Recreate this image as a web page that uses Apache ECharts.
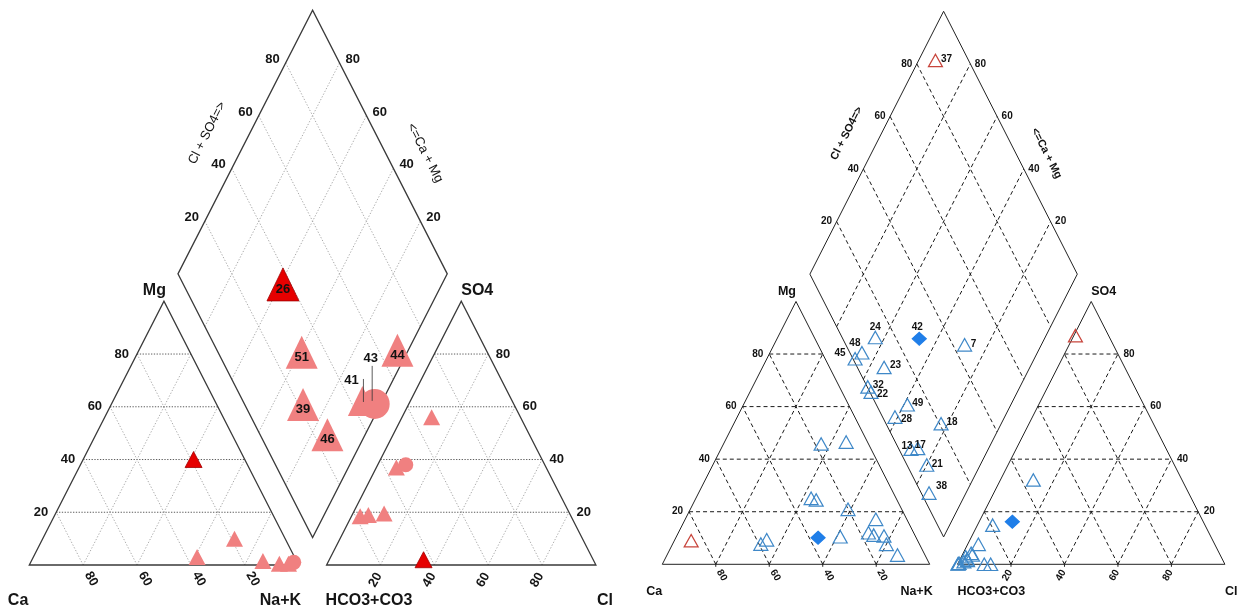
<!DOCTYPE html>
<html>
<head>
<meta charset="utf-8">
<script src="https://cdn.jsdelivr.net/npm/echarts@6/dist/echarts.min.js"></script>
<style>
  html, body { margin: 0; padding: 0; background: #fff; }
  #chart { width: 1247px; height: 615px; }
</style>
</head>
<body>
<div id="chart"></div>
<script>
// Two Piper diagrams (percent of meq/L): cations Ca / Mg / Na+K, anions HCO3+CO3 / SO4 / Cl.

// ---- left diagram samples ----
const leftIds = ['26', '51', '39', '46', '44', '41', '43'];
const leftMg  = [40, 3, 10, 1.5, 0.5, 0.5, 1];
const leftNaK = [41, 60.8, 71.2, 86, 96, 92.6, 97.7];
const leftSO4 = [2, 19.5, 18.5, 19, 56, 37, 38];
const leftCl  = [35, 11.6, 3.2, 6, 11, 7.4, 10.4];

// ---- right diagram samples ----
const rightIds = ['45', '48', '24', '32', '22', '23', '28', '49', '13', '7', '17', '18', '21', '38', '42', '37'];
const rightMg  = [7.7, 9.3, 45.8, 25.1, 24.5, 46.5, 20.9, 10.5, 12, 17.1, 11.1, 10.8, 7.6, 3.5, 10.1, 9];
const rightNaK = [33, 34.4, 36.5, 43.1, 45.3, 45.5, 59, 61.3, 71.1, 71.3, 73.5, 77.5, 80, 86.2, 53.2, 6.3];
const rightSO4 = [0.4, 2.9, 0, 0.1, 0.2, 0, 2.0, 7.6, 1.5, 32.1, 4.2, 14.9, 3.6, 1.0, 16.2, 87];
const rightCl  = [0.4, 1.6, 12.4, 0.1, 0.2, 10.0, 2.6, 4.0, 3.0, 12.3, 3.0, 5.7, 3.8, 1.9, 12.4, 0.6];

// grid/tick percentages
const tickValues = [20, 40, 60, 80];

// ---- Piper geometry (equilateral units, triangle side = 100) ----
const SQ = Math.sqrt(3) / 2;
const GAP = 10.4;
const OFF = 100 + GAP;
const cat = (mg, nak) => [nak + mg / 2, SQ * mg];            // cation triangle
const ani = (so4, cl) => [OFF + cl + so4 / 2, SQ * so4];     // anion triangle
const dia = (nak, s) => [(nak + OFF + s) / 2, SQ * (OFF + s - nak)]; // diamond, s = Cl+SO4

const FONT = '"Liberation Sans", Arial, Helvetica, sans-serif';

// ---- marker appearance ----
const leftLook = {
  base: { symbol: 'triangle', color: '#f08080' },
  '26': { symbol: 'triangle', color: '#e60000', border: '#a00000' },
  '43': { symbol: 'circle', color: '#f08080' }
};
const rightLook = {
  base: { symbol: 'triangle', color: 'rgba(0,0,0,0)', border: '#3f88c8' },
  '42': { symbol: 'diamond', color: '#1f7ee8', border: '#1f7ee8' },
  '37': { symbol: 'triangle', color: 'rgba(0,0,0,0)', border: '#c8453c' }
};
const rightLabelShift = {
  '24': [0, -10], '42': [-2, -12], '7': [9, -1], '48': [-7, -9], '45': [-15, -6],
  '23': [11.5, -2], '32': [10.5, -1.5], '22': [11.5, 2.5], '49': [10.5, -2],
  '28': [11.5, 2.5], '18': [11, -1.5], '13': [-4, -3], '17': [2.5, -3],
  '21': [10.5, -1], '38': [12.5, -7], '37': [11, -1.5]
};
const leftCallout = {
  '41': { label: [-11, -21], line: [1, -22, 1] },
  '43': { label: [-4, -45], line: [-2.5, -38, -3] }
};

// ---- styles of the two frames ----
const leftTheme = {
  text: '#151515',
  frame: { stroke: '#3a3a3a', lineWidth: 1.3 },
  hGrid: { stroke: '#4a4a4a', lineWidth: 0.9, lineDash: [1.3, 1.5] },
  dGrid: { stroke: '#a0a0a0', lineWidth: 0.9, lineDash: [1.3, 1.8] },
  tickFont: { size: 13, weight: 'bold' },
  titleFont: { size: 16, weight: 'bold' },
  edgeFont: { size: 13, weight: 'normal' },
  edgeGap: 8, aniGap: 7.5, diaGap: 6, diaDy: -3.5,
  catBase: [8, 14], aniBase: [-5, 15],
  topDy: -11, mgDx: 2, bottomDy: 36, caDx: -1, nakDx: 2.5, hcoDx: -1, clDx: 1,
  diaTitleL: [-38, -9], diaTitleR: [45, 11],
  baseTicks: false
};
const rightTheme = {
  text: '#111',
  frame: { stroke: '#222', lineWidth: 1 },
  hGrid: { stroke: '#1a1a1a', lineWidth: 1, lineDash: [4, 3] },
  dGrid: { stroke: '#1a1a1a', lineWidth: 1, lineDash: [4, 3] },
  tickFont: { size: 10, weight: 'bold' },
  titleFont: { size: 12.5, weight: 'bold' },
  edgeFont: { size: 11, weight: 'bold' },
  edgeGap: 6, aniGap: 5.5, diaGap: 4.5, diaDy: 0,
  catBase: [6, 11], aniBase: [-3.5, 11],
  topDy: -9.5, mgDx: 0, bottomDy: 27.7, caDx: 0, nakDx: 3, hcoDx: 0, clDx: 0,
  diaTitleL: [-30, -9.4], diaTitleR: [36, 10.6],
  baseTicks: true
};

function frameRenderer(T) {
  return function (params, api) {
    const kids = [];
    const P = p => api.coord(p);
    const seg = (a, b, st) => {
      const A = P(a), B = P(b);
      kids.push({ type: 'line', silent: true,
        shape: { x1: A[0], y1: A[1], x2: B[0], y2: B[1] },
        style: Object.assign({ fill: 'none' }, st) });
    };
    const outline = pts => kids.push({ type: 'polygon', silent: true,
      shape: { points: pts.map(P) }, style: Object.assign({ fill: 'none' }, T.frame) });
    const txt = (p, s, dx, dy, font, align, rot) => {
      const A = P(p);
      kids.push({ type: 'text', silent: true, x: A[0] + dx, y: A[1] + dy, rotation: rot || 0,
        style: { text: s, fill: T.text, fontFamily: FONT, fontSize: font.size,
                 fontWeight: font.weight, align: align || 'center', verticalAlign: 'middle' } });
    };

    // inner grid lines
    tickValues.forEach(k => {
      seg(cat(k, 0), cat(k, 100 - k), T.hGrid);        // Mg = k
      seg(cat(0, k), cat(100 - k, k), T.dGrid);        // Na+K = k
      seg(cat(0, 100 - k), cat(100 - k, 0), T.dGrid);  // Ca = k
      seg(ani(k, 0), ani(k, 100 - k), T.hGrid);        // SO4 = k
      seg(ani(0, k), ani(100 - k, k), T.dGrid);        // Cl = k
      seg(ani(0, 100 - k), ani(100 - k, 0), T.dGrid);  // HCO3 = k
      seg(dia(k, 0), dia(k, 100), T.dGrid);            // Na+K = k
      seg(dia(0, k), dia(100, k), T.dGrid);            // Cl+SO4 = k
    });

    // outlines
    outline([cat(0, 0), cat(100, 0), cat(0, 100)]);
    outline([ani(0, 0), ani(100, 0), ani(0, 100)]);
    outline([dia(0, 0), dia(0, 100), dia(100, 100), dia(100, 0)]);

    // small ticks on the triangle bases
    if (T.baseTicks) {
      tickValues.forEach(k => {
        [cat(0, k), ani(0, k)].forEach(p => {
          const A = P(p);
          kids.push({ type: 'line', silent: true,
            shape: { x1: A[0], y1: A[1] - 1.5, x2: A[0], y2: A[1] + 2.5 },
            style: { stroke: '#222', lineWidth: 1 } });
        });
      });
    }

    // tick labels
    tickValues.forEach(k => {
      txt(cat(k, 0), String(k), -T.edgeGap, 0, T.tickFont, 'right');
      txt(cat(0, 100 - k), String(k), T.catBase[0], T.catBase[1], T.tickFont, 'center', -Math.PI / 3);
      txt(ani(k, 100 - k), String(k), T.aniGap, 0, T.tickFont, 'left');
      txt(ani(0, k), String(k), T.aniBase[0], T.aniBase[1], T.tickFont, 'center', Math.PI / 3);
      txt(dia(0, k), String(k), -T.diaGap, T.diaDy, T.tickFont, 'right');
      txt(dia(100 - k, 100), String(k), T.diaGap, T.diaDy, T.tickFont, 'left');
    });

    // corner names
    txt(cat(100, 0), 'Mg', T.mgDx, T.topDy, T.titleFont, 'right');
    txt(ani(100, 0), 'SO4', 0, T.topDy, T.titleFont, 'left');
    txt(cat(0, 0), 'Ca', T.caDx, T.bottomDy, T.titleFont, 'right');
    txt(cat(0, 100), 'Na+K', T.nakDx, T.bottomDy, T.titleFont, 'right');
    txt(ani(0, 0), 'HCO3+CO3', T.hcoDx, T.bottomDy, T.titleFont, 'left');
    txt(ani(0, 100), 'Cl', T.clDx, T.bottomDy, T.titleFont, 'left');

    // diamond edge names, rotated along the upper edges
    const L0 = P(dia(0, 0)), L1 = P(dia(0, 100)), R1 = P(dia(100, 100));
    const angL = Math.atan2(-(L1[1] - L0[1]), L1[0] - L0[0]);
    const angR = Math.atan2(-(R1[1] - L1[1]), R1[0] - L1[0]);
    txt(dia(0, 50), 'Cl + SO4=>', T.diaTitleL[0], T.diaTitleL[1], T.edgeFont, 'center', angL);
    txt(dia(50, 100), '<=Ca + Mg', T.diaTitleR[0], T.diaTitleR[1], T.edgeFont, 'center', angR);

    return { type: 'group', children: kids };
  };
}

// ---- left markers ----
function lookOf(table, id) { return table[id] || table.base; }

const leftSmall = [];
const leftBig = [];
leftIds.forEach((id, i) => {
  const lk = lookOf(leftLook, id);
  const style = { color: lk.color, borderColor: lk.border || lk.color, borderWidth: lk.border ? 0.8 : 0, opacity: 1 };
  const small = lk.symbol === 'circle' ? 15 : [17, 16];
  leftSmall.push({ value: cat(leftMg[i], leftNaK[i]), name: id, symbol: lk.symbol, symbolSize: small, itemStyle: style });
  leftSmall.push({ value: ani(leftSO4[i], leftCl[i]), name: id, symbol: lk.symbol, symbolSize: small, itemStyle: style });
  const inside = !leftCallout[id];
  leftBig.push({
    value: dia(leftNaK[i], leftSO4[i] + leftCl[i]), name: id, symbol: lk.symbol,
    symbolSize: lk.symbol === 'circle' ? 30 : (inside ? [32, 33] : [29, 30]),
    itemStyle: style,
    label: { show: inside }
  });
});

const calloutData = leftIds.filter(id => leftCallout[id]).map(id => {
  const i = leftIds.indexOf(id);
  return { value: dia(leftNaK[i], leftSO4[i] + leftCl[i]), name: id };
});

// ---- right markers ----
const rightPts = [];
rightIds.forEach((id, i) => {
  const lk = lookOf(rightLook, id);
  const size = lk.symbol === 'diamond' ? [14, 13] : [14, 12.5];
  const style = { color: lk.color, borderColor: lk.border, borderWidth: 1.2, opacity: 1 };
  rightPts.push({ value: cat(rightMg[i], rightNaK[i]), name: id, symbol: lk.symbol, symbolSize: size, itemStyle: style });
  rightPts.push({ value: ani(rightSO4[i], rightCl[i]), name: id, symbol: lk.symbol, symbolSize: size, itemStyle: style });
  rightPts.push({
    value: dia(rightNaK[i], rightSO4[i] + rightCl[i]), name: id, symbol: lk.symbol, symbolSize: size, itemStyle: style,
    label: { show: true, offset: rightLabelShift[id] || [11, -2] }
  });
});

// ---- chart ----
const chart = echarts.init(document.getElementById('chart'), null, { renderer: 'canvas', width: 1247, height: 615 });

const hiddenAxis = (min, max, gi) => ({
  type: 'value', min: min, max: max, gridIndex: gi, show: false,
  splitLine: { show: false }, axisLine: { show: false }, axisTick: { show: false }, axisLabel: { show: false }
});

chart.setOption({
  animation: false,
  backgroundColor: '#ffffff',
  grid: [
    { left: 29.3 - 10 * 2.693, width: 226 * 2.693, top: 565 - 186 * 3.045, height: 202 * 3.045, outerBoundsMode: 'none', containLabel: false },
    { left: 662.3 - 10 * 2.674, width: 226 * 2.674, top: 564.3 - 185.5 * 3.035, height: 201.5 * 3.035, outerBoundsMode: 'none', containLabel: false }
  ],
  xAxis: [hiddenAxis(-10, 216, 0), hiddenAxis(-10, 216, 1)],
  yAxis: [hiddenAxis(-16, 186, 0), hiddenAxis(-16, 185.5, 1)],
  series: [
    {
      type: 'custom', name: 'frameLeft', coordinateSystem: 'cartesian2d', xAxisIndex: 0, yAxisIndex: 0,
      data: [[0, 0]], renderItem: frameRenderer(leftTheme), clip: false, silent: true, z: 1
    },
    {
      type: 'custom', name: 'frameRight', coordinateSystem: 'cartesian2d', xAxisIndex: 1, yAxisIndex: 1,
      data: [[0, 0]], renderItem: frameRenderer(rightTheme), clip: false, silent: true, z: 1
    },
    {
      type: 'scatter', name: 'leftTriangles', xAxisIndex: 0, yAxisIndex: 0, clip: false, silent: true, z: 3,
      data: leftSmall
    },
    {
      type: 'scatter', name: 'leftDiamond', xAxisIndex: 0, yAxisIndex: 0, clip: false, silent: true, z: 3,
      data: leftBig,
      label: {
        position: 'inside', offset: [0, 5], formatter: p => p.name,
        color: '#111', fontFamily: FONT, fontSize: 13, fontWeight: 'bold'
      }
    },
    {
      type: 'custom', name: 'leftCallouts', coordinateSystem: 'cartesian2d', xAxisIndex: 0, yAxisIndex: 0,
      data: calloutData, clip: false, silent: true, z: 5,
      renderItem: function (params, api) {
        const id = calloutData[params.dataIndex].name;
        const c = leftCallout[id];
        const A = api.coord([api.value(0), api.value(1)]);
        return {
          type: 'group', children: [
            { type: 'line', shape: { x1: A[0] + c.line[0], y1: A[1] + c.line[1], x2: A[0] + c.line[0], y2: A[1] + c.line[2] },
              style: { stroke: '#333', lineWidth: 0.8 } },
            { type: 'text', x: A[0] + c.label[0], y: A[1] + c.label[1],
              style: { text: id, fill: '#111', fontFamily: FONT, fontSize: 13, fontWeight: 'bold', align: 'center', verticalAlign: 'middle' } }
          ]
        };
      }
    },
    {
      type: 'scatter', name: 'rightSamples', xAxisIndex: 1, yAxisIndex: 1, clip: false, silent: true, z: 3,
      data: rightPts,
      label: {
        position: 'inside', formatter: p => p.name,
        color: '#111', fontFamily: FONT, fontSize: 10, fontWeight: 'bold'
      }
    }
  ]
});
</script>
</body>
</html>
